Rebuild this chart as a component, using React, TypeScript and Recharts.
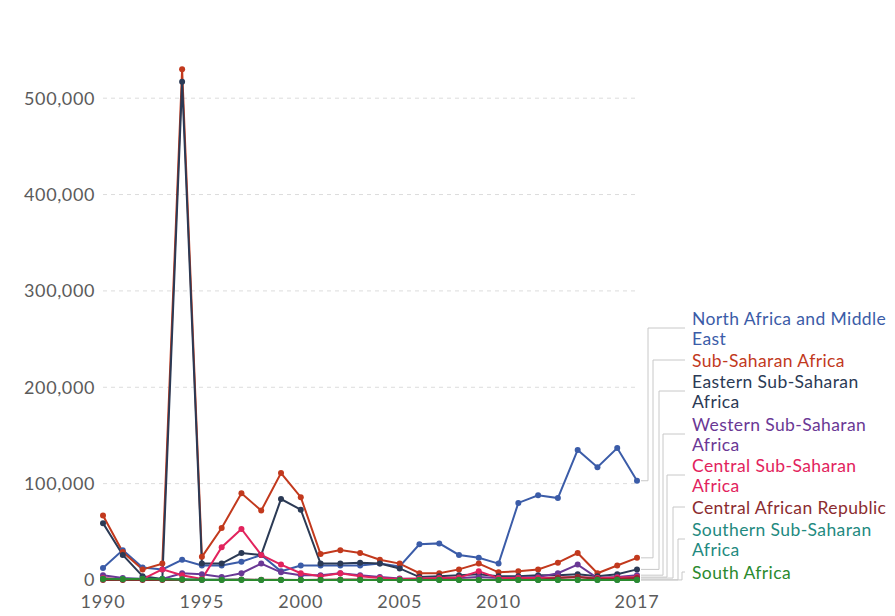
import React from "react";
import { LineChart, Line, XAxis, YAxis, CartesianGrid } from "recharts";

const years = [1990,1991,1992,1993,1994,1995,1996,1997,1998,1999,2000,2001,2002,2003,2004,2005,2006,2007,2008,2009,2010,2011,2012,2013,2014,2015,2016,2017];

const northAfricaME = [12500,31000,13000,11000,21000,15000,15000,19000,26000,9000,15000,15000,15000,15000,17000,14000,37000,38000,26000,23000,17000,80000,88000,85000,135000,117000,137000,103000];
const subSaharan = [67000,29000,11000,17000,530000,24000,54000,90000,72000,111000,86000,27000,31000,28000,21000,17000,7000,7000,11000,17000,8000,9000,11000,18000,28000,7000,15000,23000];
const easternSSA = [59000,26000,4000,1000,517000,17000,17000,28000,26000,84000,73000,17000,17000,18000,17000,12000,3000,4000,5000,6000,4000,4000,5000,5000,6000,4000,6000,11000];
const westernSSA = [5000,2000,1000,1000,7000,6000,3000,7000,17000,8000,5000,5000,7000,5000,3000,1500,1000,1500,2000,3000,2000,2500,3000,7000,16000,2000,3000,5000];
const centralSSA = [2000,500,1000,11000,5000,1000,34000,53000,26000,16000,7000,4000,7000,4000,2000,1000,1500,2000,2500,9000,2000,2000,2000,2500,3000,2000,2500,3000];
const centralAfRep = [0,0,0,0,0,0,200,500,300,200,100,300,500,500,100,100,200,300,200,200,100,200,300,2000,3000,1000,1000,2000];
const southernSSA = [1200,1000,1200,1000,700,300,200,200,100,100,100,100,100,100,100,100,100,100,100,100,100,100,100,100,100,100,100,100];
const southAfrica = [1000,900,1100,900,600,200,100,100,50,50,50,50,50,50,50,50,50,50,50,50,50,50,50,50,50,50,50,50];

const yTicks = [0, 100000, 200000, 300000, 400000, 500000];
const xTicks = [1990, 1995, 2000, 2005, 2010, 2017];

const data = years.map((year, i) => ({
  year,
  nme: northAfricaME[i],
  ssa: subSaharan[i],
  east: easternSSA[i],
  west: westernSSA[i],
  central: centralSSA[i],
  car: centralAfRep[i],
  south: southernSSA[i],
  sa: southAfrica[i],
}));

type SeriesDef = {
  key: string;
  color: string;
  lines: string[];
  vx: number;
  ly: number;
};

const series: SeriesDef[] = [
  { key: "nme", color: "#3b5ca8", lines: ["North Africa and Middle", "East"], vx: 640, ly: 320 },
  { key: "ssa", color: "#c2391d", lines: ["Sub-Saharan Africa"], vx: 645, ly: 352 },
  { key: "east", color: "#2b3a55", lines: ["Eastern Sub-Saharan", "Africa"], vx: 651, ly: 383 },
  { key: "west", color: "#6a3895", lines: ["Western Sub-Saharan", "Africa"], vx: 655, ly: 426 },
  { key: "central", color: "#e2235d", lines: ["Central Sub-Saharan", "Africa"], vx: 659, ly: 467 },
  { key: "car", color: "#8b2c2f", lines: ["Central African Republic"], vx: 665, ly: 499 },
  { key: "south", color: "#1f8a80", lines: ["Southern Sub-Saharan", "Africa"], vx: 670, ly: 531 },
  { key: "sa", color: "#2b8a2e", lines: ["South Africa"], vx: 674, ly: 564 },
];

const LABEL_X = 684;
const LINE_H = 20.5;

const makeEndLabel = (s: SeriesDef) => (props: any) => {
  const { x, y, index } = props;
  if (index !== years.length - 1 || x == null || y == null) return <g />;
  const n = s.lines.length;
  const firstY = s.ly - ((n - 1) * LINE_H) / 2;
  return (
    <g>
      <path
        d={`M${x + 4},${y} H${s.vx} V${s.ly} H${LABEL_X - 7}`}
        fill="none"
        stroke="#c8c8c8"
        strokeWidth={1}
      />
      <text
        x={LABEL_X}
        y={firstY}
        fill={s.color}
        fontSize={17.5}
        letterSpacing={0.4}
        fontFamily="Lato, sans-serif"
        dominantBaseline="central"
      >
        {s.lines.map((l, i) => (
          <tspan key={i} x={LABEL_X} y={firstY + i * LINE_H} dominantBaseline="central">
            {l}
          </tspan>
        ))}
      </text>
    </g>
  );
};

const fmt = (v: number) => v.toLocaleString("en-US");

export default function App() {
  return (
    <div style={{ width: 880, height: 608, fontFamily: "Lato, sans-serif" }}>
      <LineChart
        width={880}
        height={608}
        data={data}
        margin={{ top: 42, right: 251, bottom: 8, left: 0 }}
      >
        <CartesianGrid
          horizontal
          vertical={false}
          stroke="#dcdcdc"
          strokeDasharray="4 4"
          horizontalValues={[100000, 200000, 300000, 400000, 500000]}
        />
        <XAxis
          dataKey="year"
          type="number"
          domain={[1990, 2017]}
          ticks={xTicks}
          axisLine={false}
          tickLine={false}
          tickMargin={9}
          height={28}
          interval={0}
          tick={{ fill: "#5b5b5b", fontSize: 18, letterSpacing: 0.8, fontFamily: "Lato, sans-serif" }}
        />
        <YAxis
          type="number"
          domain={[0, 550000]}
          ticks={yTicks}
          width={95}
          axisLine={false}
          tickLine={false}
          tickFormatter={fmt}
          interval={0}
          tick={{ fill: "#5b5b5b", fontSize: 18, letterSpacing: 0.6, fontFamily: "Lato, sans-serif" }}
        />
        {series.map((s) => (
          <Line
            key={s.key}
            dataKey={s.key}
            stroke={s.color}
            strokeWidth={2}
            dot={{ r: 3, fill: s.color, stroke: s.color, strokeWidth: 0 }}
            activeDot={false}
            isAnimationActive={false}
            label={makeEndLabel(s)}
          />
        ))}
      </LineChart>
    </div>
  );
}
